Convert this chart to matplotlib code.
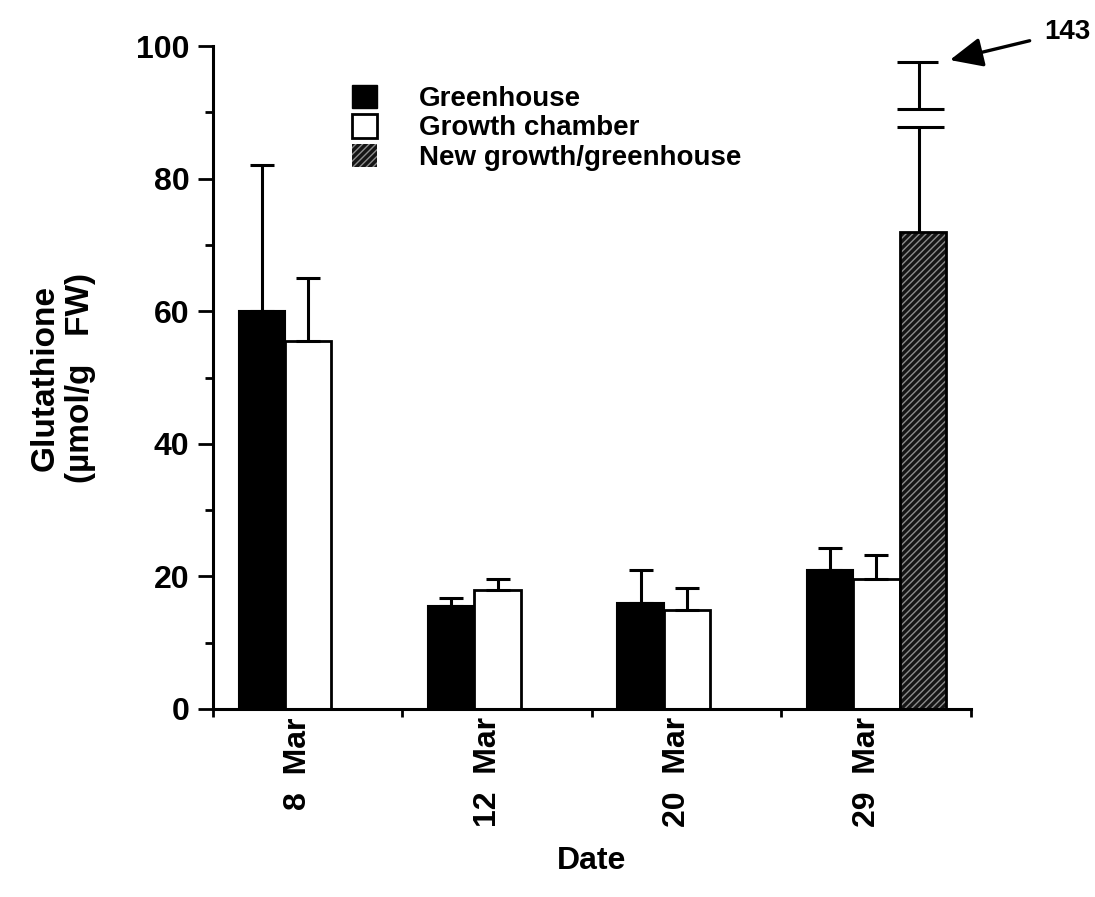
import numpy as np
import matplotlib
matplotlib.use("Agg")
import matplotlib.pyplot as plt
from matplotlib.patches import Patch

plt.rcParams['font.family'] = ['Liberation Sans', 'DejaVu Sans']
plt.rcParams['font.weight'] = 'bold'
plt.rcParams['axes.labelweight'] = 'bold'
plt.rcParams['hatch.linewidth'] = 1.0

# data (umol/g FW)
dates = ['8  Mar', '12  Mar', '20  Mar', '29  Mar']
greenhouse = [60, 15.5, 16, 21]
greenhouse_top = [82, 16.7, 21, 24.3]
chamber = [55.5, 18, 15, 19.6]
chamber_top = [65, 19.6, 18.2, 23.2]
new_growth = 72          # only on 29 Mar
new_growth_top = 143     # off scale, drawn with a break
break_marks = [87.8, 90.5, 97.6]

fig = plt.figure(figsize=(10.95, 8.97), dpi=100)
ax = fig.add_axes([0.1945, 0.2096, 0.692, 0.739])

x = np.arange(len(dates))
w = 0.245
x_gh = x + 0.135
x_gc = x + 0.38
x_ng = 3 + 0.625

ax.bar(x_gh, greenhouse, w, align='edge', color='black', edgecolor='black', lw=1.5)
ax.bar(x_gc, chamber, w, align='edge', color='white', edgecolor='black', lw=2)
# hatched bar: dark fill with light diagonal lines
ax.bar(x_ng, new_growth, w, align='edge', color='#151515', edgecolor='#8c8c8c', hatch='/////', lw=0)
ax.bar(x_ng, new_growth, w, align='edge', color='none', edgecolor='black', lw=2)

gh_err = np.array(greenhouse_top) - np.array(greenhouse)
gc_err = np.array(chamber_top) - np.array(chamber)
ax.errorbar(x_gh + w / 2, greenhouse, yerr=[np.zeros(4), gh_err], fmt='none',
            ecolor='black', elinewidth=2.2, capsize=8.5, capthick=2.2)
ax.errorbar(x_gc + w / 2, chamber, yerr=[np.zeros(4), gc_err], fmt='none',
            ecolor='black', elinewidth=2.2, capsize=8.5, capthick=2.2)

# broken error bar for the new growth bar
cx = x_ng + w / 2 - 0.02
ax.vlines(cx, new_growth, break_marks[0], color='black', lw=2.2)
ax.vlines(cx, break_marks[1], break_marks[2], color='black', lw=2.2)
ax.hlines(break_marks[0], cx - 0.115, cx + 0.13, color='black', lw=2.2)
ax.hlines(break_marks[1], cx - 0.115, cx + 0.13, color='black', lw=2.2)
ax.hlines(break_marks[2], cx - 0.115, cx + 0.10, color='black', lw=2.2)
ax.annotate(str(new_growth_top), xy=(3.89, 97.9), xytext=(4.39, 102.2),
            fontsize=20, fontweight='bold', va='center', ha='left',
            annotation_clip=False,
            arrowprops=dict(arrowstyle='-|>,head_length=1.0,head_width=0.45',
                            color='black', lw=2.4, shrinkA=9, shrinkB=0))

ax.set_xlim(0, 4)
ax.set_ylim(0, 100)
for s in ['top', 'right']:
    ax.spines[s].set_visible(False)
for s in ['left', 'bottom']:
    ax.spines[s].set_linewidth(2.2)

ax.set_yticks(np.arange(0, 101, 20))
ax.set_yticks(np.arange(10, 100, 20), minor=True)
ax.tick_params(axis='y', which='major', length=11, width=2, labelsize=23, pad=6)
ax.tick_params(axis='y', which='minor', length=6, width=2)
ax.set_xticks(np.arange(0, 5))
ax.set_xticks(x + 0.45, minor=True)
ax.set_xticklabels([])
ax.set_xticklabels(dates, minor=True, rotation=90, fontsize=23)
ax.tick_params(axis='x', which='major', length=6, width=2)
ax.tick_params(axis='x', which='minor', length=0, pad=6)

ax.set_ylabel('Glutathione\n(\u00b5mol/g   FW)', fontsize=24, fontweight='bold',
              linespacing=1.15, labelpad=29)
ax.set_xlabel('Date', fontsize=23, fontweight='bold', labelpad=13)

handles = [Patch(facecolor='black', edgecolor='black'),
           Patch(facecolor='white', edgecolor='black', lw=2),
           Patch(facecolor='#151515', edgecolor='#8c8c8c', hatch='/////', lw=0)]
ax.legend(handles, ['Greenhouse', 'Growth chamber', 'New growth/greenhouse'],
          loc='upper left', bbox_to_anchor=(0.184, 0.942), frameon=False,
          fontsize=20, handlelength=0.88, handleheight=0.93, handletextpad=1.5,
          labelspacing=0.08, borderpad=0, borderaxespad=0)

fig.savefig('out.png', dpi=100)
